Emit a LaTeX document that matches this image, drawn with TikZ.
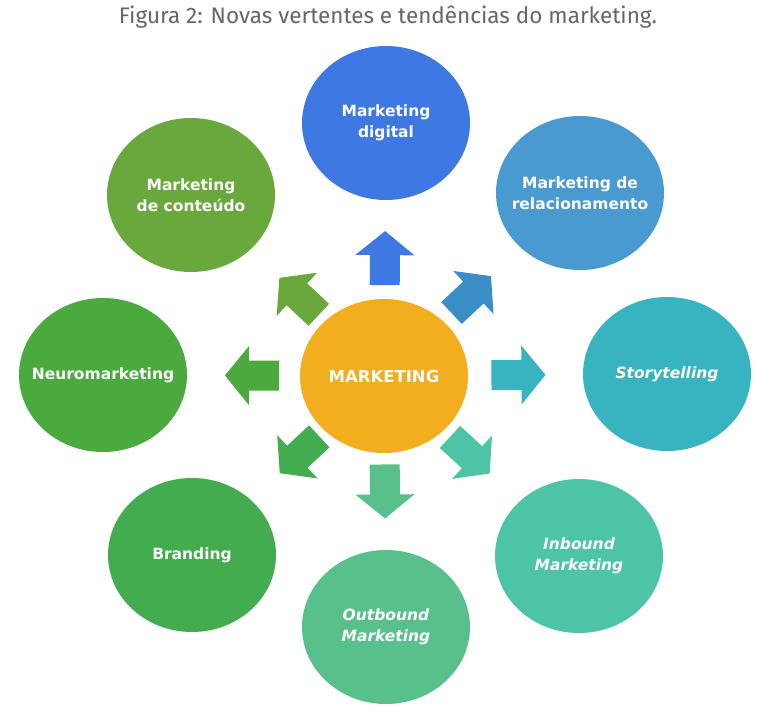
\documentclass[tikz,border=0pt]{standalone}
\usepackage{fontspec}
\setmainfont{DejaVu Sans}
\newfontfamily\titlefont{Fira Sans}
\usetikzlibrary{shapes.geometric,calc}

\definecolor{mkorange}{HTML}{F2AE1E}
\definecolor{mkdigital}{HTML}{3D78E3}
\definecolor{mkrelac}{HTML}{4A9AD2}
\definecolor{mkrelacarrow}{HTML}{3B8DC8}
\definecolor{mkstory}{HTML}{38B4C0}
\definecolor{mkinbound}{HTML}{4EC4A6}
\definecolor{mkoutbound}{HTML}{58C08A}
\definecolor{mkbranding}{HTML}{42AC4E}
\definecolor{mkneuro}{HTML}{4AAA3E}
\definecolor{mkconteudo}{HTML}{68A83C}
\definecolor{mktitle}{HTML}{666666}

\tikzset{
  bubbletext/.style={text=white, align=center, inner sep=0pt,
    font=\fontsize{15.5}{21}\selectfont\bfseries},
  slanted/.style={bubbletext, font=\fontsize{15.5}{21}\selectfont\bfseries\itshape},
  bubble/.style={ellipse, minimum width=168pt, minimum height=154pt,
    inner sep=0pt, label={[bubbletext]center:#1}},
  sbubble/.style={ellipse, minimum width=168pt, minimum height=154pt,
    inner sep=0pt, label={[slanted]center:#1}},
}

% fat arrow from the centre towards node #1, colour #3
\newcommand\blockarrow[3]{%
  \coordinate (m)    at ($(mkt)!#2!(#1)$);
  \coordinate (tip)  at ($(m)!27pt!(#1)$);
  \coordinate (tail) at ($(m)!-27pt!(#1)$);
  \coordinate (neck) at ($(m)!3pt!(#1)$);
  \fill[#3] ($(tail)!15pt!90:(tip)$) -- ($(neck)!15pt!90:(tip)$)
    -- ($(neck)!29.5pt!90:(tip)$) -- (tip) -- ($(neck)!29.5pt!-90:(tip)$)
    -- ($(neck)!15pt!-90:(tip)$) -- ($(tail)!15pt!-90:(tip)$) -- cycle;
}

\begin{document}
\begin{tikzpicture}[x=1pt, y=-1pt]
  \useasboundingbox[fill=white] (0,0) rectangle (769,715);

  \node[text=mktitle, font=\titlefont\fontsize{22.5}{25}\selectfont] (title) at (388,17)
    {Figura 2: Novas vertentes e tendências do marketing.};

  \node[bubble={\fontsize{16.5}{20}\selectfont MARKETING}, fill=mkorange] (mkt) at (384,376) {};

  \node[bubble={Marketing\\digital}, fill=mkdigital]            (digital)  at (386,123) {};
  \node[bubble={Marketing de\\relacionamento}, fill=mkrelac]    (relac)    at (580,193) {};
  \node[sbubble={Storytelling}, fill=mkstory]                   (story)    at (667,374) {};
  \node[sbubble={Inbound\\Marketing}, fill=mkinbound]           (inbound)  at (579,556) {};
  \node[sbubble={Outbound\\Marketing}, fill=mkoutbound]         (outbound) at (386,627) {};
  \node[bubble={Branding}, fill=mkbranding]                     (branding) at (192,555) {};
  \node[bubble={Neuromarketing}, fill=mkneuro]                  (neuro)    at (103,375) {};
  \node[bubble={Marketing\\de conteúdo}, fill=mkconteudo]       (conteudo) at (191,195) {};

  \blockarrow{digital}{0.466}{mkdigital}
  \blockarrow{relac}{0.445}{mkrelacarrow}
  \blockarrow{story}{0.475}{mkstory}
  \blockarrow{inbound}{0.44}{mkinbound}
  \blockarrow{outbound}{0.46}{mkoutbound}
  \blockarrow{branding}{0.44}{mkbranding}
  \blockarrow{neuro}{0.47}{mkneuro}
  \blockarrow{conteudo}{0.44}{mkconteudo}
\end{tikzpicture}
\end{document}
